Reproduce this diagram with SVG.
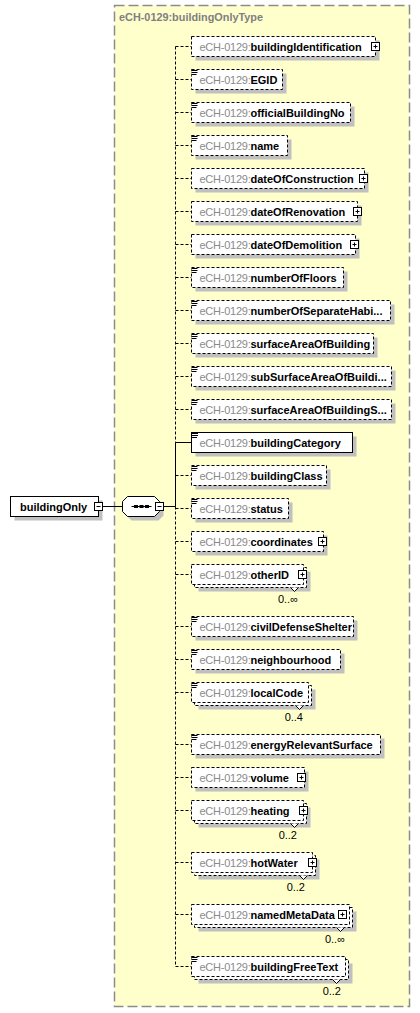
<svg xmlns="http://www.w3.org/2000/svg" width="420" height="1013" viewBox="0 0 420 1013">
<style>
.t{font-family:"Liberation Sans",Arial,sans-serif;font-size:11px}
.p{fill:#8a8a8a;letter-spacing:-0.25px}
.n{font-weight:bold;fill:#000}
.box{fill:#fff;stroke:#000;stroke-width:1}
.opt{stroke-dasharray:3,2}
.sh{fill:#c0c0c0}
.ico{fill:#fff;stroke:#000;stroke-width:1}
.pl{stroke:#000;stroke-width:1;fill:none}
.con{stroke:#000;stroke-width:1;fill:none}
.dash{stroke-dasharray:3,2}
.doc{stroke:#000;stroke-width:1}
.mult{font-family:"Liberation Sans",Arial,sans-serif;font-size:11px;fill:#000;text-anchor:end}
</style>
<defs>
<g id="plus"><rect class="ico" x="-4" y="-4" width="8" height="8"/><path class="pl" d="M-2,0H2M0,-2V2"/></g>
<g id="minus"><rect class="ico" x="-4" y="-4" width="8" height="8"/><path class="pl" d="M-2,0H2"/></g>
<g id="docic"><rect x="0" y="0" width="6.5" height="5.5" fill="#fff"/><path class="doc" d="M0,0.5H6M0,2.5H6M0,4.5H5"/></g>
</defs>

<g id="container">
<rect x="114.5" y="5.5" width="295" height="1001" fill="#ffffcc" stroke="#8c8c8c" stroke-width="1.5" stroke-dasharray="10,4"/>
<text class="t" x="119" y="21" font-weight="bold" fill="#808080" textLength="144" lengthAdjust="spacingAndGlyphs">eCH-0129:buildingOnlyType</text>
</g>

<g id="connectors">
<path class="con" d="M102.5,506.5H122.5M163.5,506.5H175.5"/>
<path class="con dash" d="M175.5,46.5V442.5"/>
<path class="con" d="M175.5,442.5V506.5"/>
<path class="con dash" d="M175.5,506.5V966.5"/>
<path class="con" d="M175.5,442.5H191.5"/>
<path class="con dash" d="M175.5,46.5H191.5M175.5,79.5H191.5M175.5,112.5H191.5M175.5,145.5H191.5M175.5,178.5H191.5M175.5,211.5H191.5M175.5,244.5H191.5M175.5,277.5H191.5M175.5,310.5H191.5M175.5,343.5H191.5M175.5,376.5H191.5M175.5,409.5H191.5M175.5,475.5H191.5M175.5,508.5H191.5M175.5,541.5H191.5M175.5,574.5H191.5M175.5,626.5H191.5M175.5,659.5H191.5M175.5,692.5H191.5M175.5,744.5H191.5M175.5,777.5H191.5M175.5,810.5H191.5M175.5,862.5H191.5M175.5,914.5H191.5M175.5,966.5H191.5"/>
</g>

<g id="buildingOnly">
<rect class="sh" x="14.5" y="500.5" width="88" height="20"/>
<rect class="box" x="10.5" y="496.5" width="88" height="20"/>
<text class="t n" x="20" y="510.5">buildingOnly</text>
<use href="#minus" x="98.5" y="506.5"/>
</g>

<g id="sequence">
<polygon class="sh" points="131.5,500.5 158.5,500.5 163.5,505.5 163.5,515.5 158.5,520.5 131.5,520.5 126.5,515.5 126.5,505.5"/>
<polygon class="box" points="127.5,496.5 154.5,496.5 159.5,501.5 159.5,511.5 154.5,516.5 127.5,516.5 122.5,511.5 122.5,501.5"/>
<path class="pl" d="M131.5,506.5H151.5"/>
<rect x="134" y="505" width="4" height="3" fill="#000"/>
<rect x="139.5" y="505" width="4" height="3" fill="#000"/>
<rect x="145" y="505" width="4" height="3" fill="#000"/>
<use href="#minus" x="159.5" y="506.5"/>
</g>

<g id="buildingIdentification">
<rect class="sh" x="195.5" y="40.5" width="184" height="20"/>
<rect class="box opt" x="191.5" y="36.5" width="184" height="20"/>
<text class="t" x="199.5" y="50.5"><tspan class="p">eCH-0129:</tspan><tspan class="n">buildingIdentification</tspan></text>
<use href="#plus" x="375.5" y="46.5"/>
</g>

<g id="EGID">
<rect class="sh" x="195.5" y="73.5" width="91" height="20"/>
<rect class="box opt" x="191.5" y="69.5" width="91" height="20"/>
<use href="#docic" x="191.5" y="70"/>
<text class="t" x="199.5" y="83.5"><tspan class="p">eCH-0129:</tspan><tspan class="n">EGID</tspan></text>
</g>

<g id="officialBuildingNo">
<rect class="sh" x="195.5" y="106.5" width="159" height="20"/>
<rect class="box opt" x="191.5" y="102.5" width="159" height="20"/>
<use href="#docic" x="191.5" y="103"/>
<text class="t" x="199.5" y="116.5"><tspan class="p">eCH-0129:</tspan><tspan class="n">officialBuildingNo</tspan></text>
</g>

<g id="name">
<rect class="sh" x="195.5" y="139.5" width="96" height="20"/>
<rect class="box opt" x="191.5" y="135.5" width="96" height="20"/>
<use href="#docic" x="191.5" y="136"/>
<text class="t" x="199.5" y="149.5"><tspan class="p">eCH-0129:</tspan><tspan class="n">name</tspan></text>
</g>

<g id="dateOfConstruction">
<rect class="sh" x="195.5" y="172.5" width="173" height="20"/>
<rect class="box opt" x="191.5" y="168.5" width="173" height="20"/>
<text class="t" x="199.5" y="182.5"><tspan class="p">eCH-0129:</tspan><tspan class="n">dateOfConstruction</tspan></text>
<use href="#plus" x="363.5" y="178.5"/>
</g>

<g id="dateOfRenovation">
<rect class="sh" x="195.5" y="205.5" width="166" height="20"/>
<rect class="box opt" x="191.5" y="201.5" width="166" height="20"/>
<text class="t" x="199.5" y="215.5"><tspan class="p">eCH-0129:</tspan><tspan class="n">dateOfRenovation</tspan></text>
<use href="#plus" x="357.5" y="211.5"/>
</g>

<g id="dateOfDemolition">
<rect class="sh" x="195.5" y="238.5" width="164" height="20"/>
<rect class="box opt" x="191.5" y="234.5" width="164" height="20"/>
<text class="t" x="199.5" y="248.5"><tspan class="p">eCH-0129:</tspan><tspan class="n">dateOfDemolition</tspan></text>
<use href="#plus" x="354.5" y="244.5"/>
</g>

<g id="numberOfFloors">
<rect class="sh" x="195.5" y="271.5" width="152" height="20"/>
<rect class="box opt" x="191.5" y="267.5" width="152" height="20"/>
<use href="#docic" x="191.5" y="268"/>
<text class="t" x="199.5" y="281.5"><tspan class="p">eCH-0129:</tspan><tspan class="n">numberOfFloors</tspan></text>
</g>

<g id="numberOfSeparateHabitationRooms">
<rect class="sh" x="195.5" y="304.5" width="199" height="20"/>
<rect class="box opt" x="191.5" y="300.5" width="199" height="20"/>
<use href="#docic" x="191.5" y="301"/>
<text class="t" x="199.5" y="314.5"><tspan class="p">eCH-0129:</tspan><tspan class="n">numberOfSeparateHabi...</tspan></text>
</g>

<g id="surfaceAreaOfBuilding">
<rect class="sh" x="195.5" y="337.5" width="182" height="20"/>
<rect class="box opt" x="191.5" y="333.5" width="182" height="20"/>
<use href="#docic" x="191.5" y="334"/>
<text class="t" x="199.5" y="347.5"><tspan class="p">eCH-0129:</tspan><tspan class="n">surfaceAreaOfBuilding</tspan></text>
</g>

<g id="subSurfaceAreaOfBuilding">
<rect class="sh" x="195.5" y="370.5" width="200" height="20"/>
<rect class="box opt" x="191.5" y="366.5" width="200" height="20"/>
<use href="#docic" x="191.5" y="367"/>
<text class="t" x="199.5" y="380.5"><tspan class="p">eCH-0129:</tspan><tspan class="n">subSurfaceAreaOfBuildi...</tspan></text>
</g>

<g id="surfaceAreaOfBuildingSingleObject">
<rect class="sh" x="195.5" y="403.5" width="200" height="20"/>
<rect class="box opt" x="191.5" y="399.5" width="200" height="20"/>
<use href="#docic" x="191.5" y="400"/>
<text class="t" x="199.5" y="413.5"><tspan class="p">eCH-0129:</tspan><tspan class="n">surfaceAreaOfBuildingS...</tspan></text>
</g>

<g id="buildingCategory">
<rect class="sh" x="195.5" y="436.5" width="161" height="20"/>
<rect class="box" x="191.5" y="432.5" width="161" height="20"/>
<use href="#docic" x="192" y="433"/>
<text class="t" x="199.5" y="446.5"><tspan class="p">eCH-0129:</tspan><tspan class="n">buildingCategory</tspan></text>
</g>

<g id="buildingClass">
<rect class="sh" x="195.5" y="469.5" width="135" height="20"/>
<rect class="box opt" x="191.5" y="465.5" width="135" height="20"/>
<use href="#docic" x="191.5" y="466"/>
<text class="t" x="199.5" y="479.5"><tspan class="p">eCH-0129:</tspan><tspan class="n">buildingClass</tspan></text>
</g>

<g id="status">
<rect class="sh" x="195.5" y="502.5" width="97" height="20"/>
<rect class="box opt" x="191.5" y="498.5" width="97" height="20"/>
<use href="#docic" x="191.5" y="499"/>
<text class="t" x="199.5" y="512.5"><tspan class="p">eCH-0129:</tspan><tspan class="n">status</tspan></text>
</g>

<g id="coordinates">
<rect class="sh" x="195.5" y="535.5" width="132" height="20"/>
<rect class="box opt" x="191.5" y="531.5" width="132" height="20"/>
<text class="t" x="199.5" y="545.5"><tspan class="p">eCH-0129:</tspan><tspan class="n">coordinates</tspan></text>
<use href="#plus" x="322.5" y="541.5"/>
</g>

<g id="otherID">
<rect class="sh" x="198.5" y="571.5" width="112" height="20"/>
<rect class="box opt" x="194.5" y="567.5" width="112" height="20"/>
<path class="box" d="M290.5,587.5L294.5,591.5L298.5,587.5"/>
<rect class="box opt" x="191.5" y="564.5" width="112" height="20"/>
<text class="t" x="199.5" y="578.5"><tspan class="p">eCH-0129:</tspan><tspan class="n">otherID</tspan></text>
<use href="#plus" x="302.5" y="574.5"/>
<text class="mult" x="298" y="602.5">0..∞</text>
</g>

<g id="civilDefenseShelter">
<rect class="sh" x="195.5" y="620.5" width="162" height="20"/>
<rect class="box opt" x="191.5" y="616.5" width="162" height="20"/>
<use href="#docic" x="191.5" y="617"/>
<text class="t" x="199.5" y="630.5"><tspan class="p">eCH-0129:</tspan><tspan class="n">civilDefenseShelter</tspan></text>
</g>

<g id="neighbourhood">
<rect class="sh" x="195.5" y="653.5" width="149" height="20"/>
<rect class="box opt" x="191.5" y="649.5" width="149" height="20"/>
<use href="#docic" x="191.5" y="650"/>
<text class="t" x="199.5" y="663.5"><tspan class="p">eCH-0129:</tspan><tspan class="n">neighbourhood</tspan></text>
</g>

<g id="localCode">
<rect class="sh" x="198.5" y="689.5" width="117" height="20"/>
<rect class="box opt" x="194.5" y="685.5" width="117" height="20"/>
<path class="box" d="M295.5,705.5L299.5,709.5L303.5,705.5"/>
<rect class="box opt" x="191.5" y="682.5" width="117" height="20"/>
<use href="#docic" x="191.5" y="683"/>
<text class="t" x="199.5" y="696.5"><tspan class="p">eCH-0129:</tspan><tspan class="n">localCode</tspan></text>
<text class="mult" x="303" y="720.5">0..4</text>
</g>

<g id="energyRelevantSurface">
<rect class="sh" x="195.5" y="738.5" width="189" height="20"/>
<rect class="box opt" x="191.5" y="734.5" width="189" height="20"/>
<use href="#docic" x="191.5" y="735"/>
<text class="t" x="199.5" y="748.5"><tspan class="p">eCH-0129:</tspan><tspan class="n">energyRelevantSurface</tspan></text>
</g>

<g id="volume">
<rect class="sh" x="195.5" y="771.5" width="113" height="20"/>
<rect class="box opt" x="191.5" y="767.5" width="113" height="20"/>
<text class="t" x="199.5" y="781.5"><tspan class="p">eCH-0129:</tspan><tspan class="n">volume</tspan></text>
<use href="#plus" x="301.5" y="777.5"/>
</g>

<g id="heating">
<rect class="sh" x="198.5" y="807.5" width="112" height="20"/>
<rect class="box opt" x="194.5" y="803.5" width="112" height="20"/>
<path class="box" d="M290.5,823.5L294.5,827.5L298.5,823.5"/>
<rect class="box opt" x="191.5" y="800.5" width="112" height="20"/>
<text class="t" x="199.5" y="814.5"><tspan class="p">eCH-0129:</tspan><tspan class="n">heating</tspan></text>
<use href="#plus" x="303.5" y="810.5"/>
<text class="mult" x="297" y="838.5">0..2</text>
</g>

<g id="hotWater">
<rect class="sh" x="198.5" y="859.5" width="121" height="20"/>
<rect class="box opt" x="194.5" y="855.5" width="121" height="20"/>
<path class="box" d="M299.5,875.5L303.5,879.5L307.5,875.5"/>
<rect class="box opt" x="191.5" y="852.5" width="121" height="20"/>
<text class="t" x="199.5" y="866.5"><tspan class="p">eCH-0129:</tspan><tspan class="n">hotWater</tspan></text>
<use href="#plus" x="312.5" y="862.5"/>
<text class="mult" x="305" y="890.5">0..2</text>
</g>

<g id="namedMetaData">
<rect class="sh" x="198.5" y="911.5" width="158" height="20"/>
<rect class="box opt" x="194.5" y="907.5" width="158" height="20"/>
<path class="box" d="M336.5,927.5L340.5,931.5L344.5,927.5"/>
<rect class="box opt" x="191.5" y="904.5" width="158" height="20"/>
<text class="t" x="199.5" y="918.5"><tspan class="p">eCH-0129:</tspan><tspan class="n">namedMetaData</tspan></text>
<use href="#plus" x="342.5" y="914.5"/>
<text class="mult" x="345" y="942.5">0..∞</text>
</g>

<g id="buildingFreeText">
<rect class="sh" x="198.5" y="963.5" width="154" height="20"/>
<rect class="box opt" x="194.5" y="959.5" width="154" height="20"/>
<path class="box" d="M332.5,979.5L336.5,983.5L340.5,979.5"/>
<rect class="box opt" x="191.5" y="956.5" width="154" height="20"/>
<use href="#docic" x="191.5" y="957"/>
<text class="t" x="199.5" y="970.5"><tspan class="p">eCH-0129:</tspan><tspan class="n">buildingFreeText</tspan></text>
<text class="mult" x="341" y="994.5">0..2</text>
</g>
</svg>
